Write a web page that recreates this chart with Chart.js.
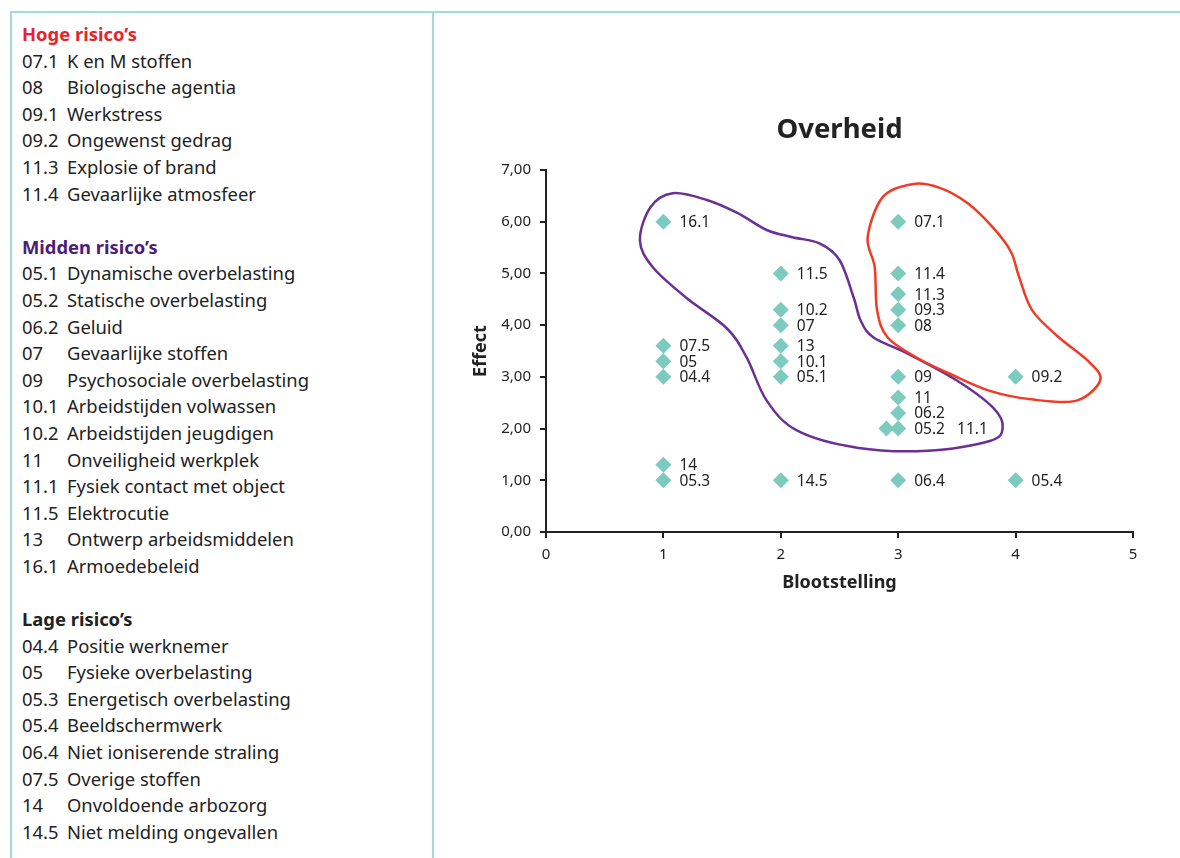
<!DOCTYPE html>
<html>
<head>
<meta charset="utf-8">
<script src="https://cdn.jsdelivr.net/npm/chart.js@4"></script>
<style>
  body { margin: 0; width: 1180px; height: 858px; overflow: hidden; background: #fff; font-family: "Noto Sans", sans-serif; }
  #frameTop { position: absolute; left: 10px; top: 11px; width: 1170px; height: 2px; background: #9fdcd4; }
  #frameLeft { position: absolute; left: 10px; top: 11px; width: 2px; height: 847px; background: #9fdcd4; }
  #frameMid { position: absolute; left: 432px; top: 11px; width: 2px; height: 847px; background: #9fdcd4; }
  #legend { position: absolute; left: 22px; top: 21px; font-size: 18.4px; line-height: 26.6px; color: #222; }
  #legend .row { white-space: nowrap; height: 26.6px; }
  #legend .code { display: inline-block; width: 45px; }
  #legend .head { font-weight: bold; }
  #chartBox { position: absolute; left: 440px; top: 14px; }
</style>
</head>
<body>
<div id="frameTop"></div>
<div id="frameLeft"></div>
<div id="frameMid"></div>
<div id="legend"></div>
<div id="chartBox"><canvas id="risico" width="740" height="844"></canvas></div>
<script>
// punten: code, blootstelling (x), effect (y)
const codes = ['16.1','07.5','05','04.4','14','05.3',
               '11.5','10.2','07','13','10.1','05.1','14.5',
               '07.1','11.4','11.3','09.3','08','09','11','06.2','05.2','11.1','06.4',
               '09.2','05.4'];
const blootstelling = [1,1,1,1,1,1,
                       2,2,2,2,2,2,2,
                       3,3,3,3,3,3,3,3,3,2.9,3,
                       4,4];
const effect = [6,3.6,3.3,3,1.3,1,
                5,4.3,4,3.6,3.3,3,1,
                6,5,4.6,4.3,4,3,2.6,2.3,2,2,1,
                3,1];
// 05.2 en 11.1 liggen op elkaar, label samen
const puntLabels = ['16.1','07.5','05','04.4','14','05.3',
                    '11.5','10.2','07','13','10.1','05.1','14.5',
                    '07.1','11.4','11.3','09.3','08','09','11','06.2','05.2   11.1','','06.4',
                    '09.2','05.4'];

const yTickLabels = ['0,00','1,00','2,00','3,00','4,00','5,00','6,00','7,00'];
const xTickLabels = ['0','1','2','3','4','5'];

// omlijning midden risico's (paars) en hoge risico's (rood), in x/y waarden
const middenX = [1.08,1.37,1.63,1.88,2.10,2.33,2.50,2.62,2.68,2.79,3.08,3.50,3.81,3.89,3.78,3.25,2.65,2.14,1.88,1.71,1.54,1.20,0.91,0.80,0.89];
const middenY = [6.55,6.42,6.17,5.84,5.70,5.58,5.26,4.54,4.09,3.76,3.45,2.93,2.40,2.02,1.76,1.57,1.63,1.96,2.54,3.37,3.94,4.52,5.12,5.64,6.28];
const hoogX = [3.13,3.36,3.59,3.81,3.96,4.03,4.14,4.36,4.63,4.72,4.52,4.15,3.78,3.44,3.16,2.91,2.82,2.80,2.74,2.87];
const hoogY = [6.73,6.65,6.36,5.88,5.42,4.93,4.29,3.78,3.28,2.93,2.54,2.56,2.73,3.06,3.37,3.76,4.29,5.12,5.70,6.48];

const legendaHoog = [['07.1','K en M stoffen'],['08','Biologische agentia'],['09.1','Werkstress'],['09.2','Ongewenst gedrag'],['11.3','Explosie of brand'],['11.4','Gevaarlijke atmosfeer']];
const legendaMidden = [['05.1','Dynamische overbelasting'],['05.2','Statische overbelasting'],['06.2','Geluid'],['07','Gevaarlijke stoffen'],['09','Psychosociale overbelasting'],['10.1','Arbeidstijden volwassen'],['10.2','Arbeidstijden jeugdigen'],['11','Onveiligheid werkplek'],['11.1','Fysiek contact met object'],['11.5','Elektrocutie'],['13','Ontwerp arbeidsmiddelen'],['16.1','Armoedebeleid']];
const legendaLaag = [['04.4','Positie werknemer'],['05','Fysieke overbelasting'],['05.3','Energetisch overbelasting'],['05.4','Beeldschermwerk'],['06.4','Niet ioniserende straling'],['07.5','Overige stoffen'],['14','Onvoldoende arbozorg'],['14.5','Niet melding ongevallen']];

// legenda links
const leg = document.getElementById('legend');
function blok(titel, kleur, rijen, leeg) {
  let h = '<div class="row head" style="color:' + kleur + '">' + titel + '</div>';
  rijen.forEach(r => { h += '<div class="row"><span class="code">' + r[0] + '</span>' + r[1] + '</div>'; });
  if (leeg) h += '<div class="row"></div>';
  return h;
}
leg.innerHTML = blok('Hoge risico’s', '#e8222c', legendaHoog, true) +
                blok('Midden risico’s', '#4e1c78', legendaMidden, true) +
                blok('Lage risico’s', '#222', legendaLaag, false);

// gesloten gladde lijn door de punten (catmull-rom)
function omlijning(chart, xs, ys, kleur) {
  const ctx = chart.ctx;
  const sx = chart.scales.x, sy = chart.scales.y;
  const p = xs.map((v, i) => ({x: sx.getPixelForValue(v), y: sy.getPixelForValue(ys[i])}));
  const n = p.length;
  ctx.save();
  ctx.beginPath();
  ctx.moveTo(p[0].x, p[0].y);
  for (let i = 0; i < n; i++) {
    const p0 = p[(i - 1 + n) % n], p1 = p[i], p2 = p[(i + 1) % n], p3 = p[(i + 2) % n];
    ctx.bezierCurveTo(p1.x + (p2.x - p0.x) / 6, p1.y + (p2.y - p0.y) / 6,
                      p2.x - (p3.x - p1.x) / 6, p2.y - (p3.y - p1.y) / 6,
                      p2.x, p2.y);
  }
  ctx.closePath();
  ctx.strokeStyle = kleur;
  ctx.lineWidth = 2.5;
  ctx.stroke();
  ctx.restore();
}

const omlijningPlugin = {
  id: 'omlijning',
  beforeDatasetsDraw(chart) {
    omlijning(chart, middenX, middenY, '#6b3096');
    omlijning(chart, hoogX, hoogY, '#f03c26');
  }
};

const labelPlugin = {
  id: 'puntlabels',
  afterDatasetsDraw(chart) {
    const ctx = chart.ctx;
    const meta = chart.getDatasetMeta(0);
    ctx.save();
    ctx.font = '15.5px "Noto Sans"';
    ctx.fillStyle = '#222';
    ctx.textBaseline = 'middle';
    meta.data.forEach((el, i) => {
      ctx.fillText(puntLabels[i], el.x + 16, el.y + 1);
    });
    ctx.restore();
  }
};

const ctx = document.getElementById('risico').getContext('2d');
const chart = new Chart(ctx, {
  type: 'scatter',
  data: {
    datasets: [{
      label: 'risico',
      data: codes.map((c, i) => ({x: blootstelling[i], y: effect[i]})),
      pointStyle: 'rectRot',
      pointRadius: 8,
      pointHoverRadius: 8,
      backgroundColor: '#7ccbbe',
      borderColor: '#7ccbbe',
      borderWidth: 0
    }]
  },
  options: {
    responsive: false,
    animation: false,
    layout: { padding: { left: 0, right: 47, top: 0, bottom: 256 } },
    plugins: {
      legend: { display: false },
      tooltip: { enabled: false },
      title: {
        display: true,
        text: 'Overheid',
        fullSize: false,
        color: '#222',
        font: { family: '"Noto Sans"', size: 27.5, weight: 'bold', lineHeight: 1.2 },
        padding: { top: 100, bottom: 23 }
      }
    },
    scales: {
      x: {
        type: 'linear',
        min: 0, max: 5,
        afterFit(scale) { scale.height = 70; },
        ticks: {
          stepSize: 1,
          color: '#222',
          padding: 8,
          font: { family: '"Noto Sans"', size: 15 },
          callback: (v, i) => xTickLabels[i]
        },
        grid: { drawOnChartArea: false, tickLength: 6, color: '#222', lineWidth: 2 },
        border: { color: '#222', width: 2 },
        title: {
          display: true,
          text: 'Blootstelling',
          color: '#222',
          font: { family: '"Noto Sans"', size: 18, weight: 'bold', lineHeight: 1.2 },
          padding: { top: 0, bottom: 8 }
        }
      },
      y: {
        min: 0, max: 7,
        afterFit(scale) { scale.width = 106; },
        ticks: {
          stepSize: 1,
          color: '#222',
          padding: 9,
          font: { family: '"Noto Sans"', size: 15 },
          callback: (v, i) => yTickLabels[i]
        },
        grid: { drawOnChartArea: false, tickLength: 6, color: '#222', lineWidth: 2 },
        border: { color: '#222', width: 2 },
        title: {
          display: true,
          text: 'Effect',
          color: '#222',
          font: { family: '"Noto Sans"', size: 18, weight: 'bold', lineHeight: 1.2 },
          padding: { top: 30, bottom: 0 }
        }
      }
    }
  },
  plugins: [omlijningPlugin, labelPlugin]
});
</script>
</body>
</html>
